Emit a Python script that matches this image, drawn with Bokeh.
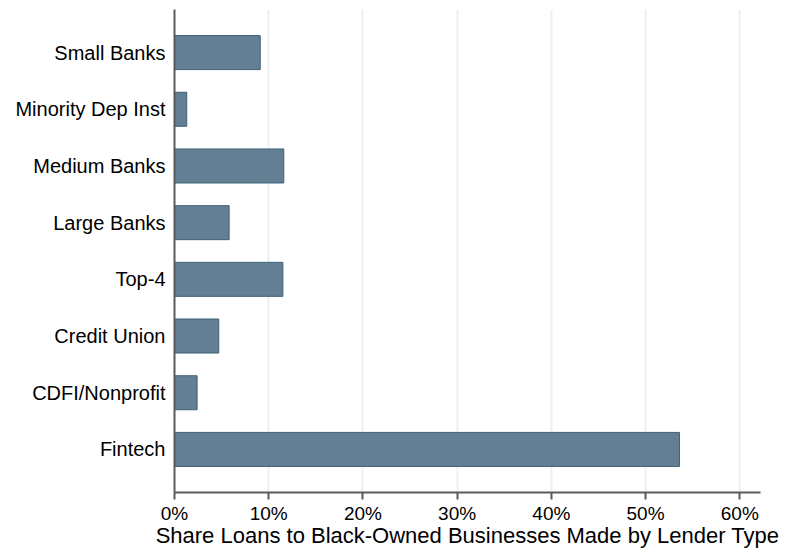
from bokeh.plotting import figure
from bokeh.models import Range1d, FactorRange, ColumnDataSource, NumeralTickFormatter, FixedTicker
from bokeh.embed import file_html
from bokeh.resources import INLINE

categories = ["Small Banks", "Minority Dep Inst", "Medium Banks", "Large Banks",
              "Top-4", "Credit Union", "CDFI/Nonprofit", "Fintech"]
shares = [9.1, 1.3, 11.6, 5.8, 11.5, 4.7, 2.4, 53.6]
x_ticks = [0, 10, 20, 30, 40, 50, 60]
x_title = "Share Loans to Black-Owned Businesses Made by Lender Type"

FONT = "Liberation Sans"

src = ColumnDataSource(dict(cat=categories, val=[v / 100 for v in shares]))

LB, RB, TB, BB = 174, 27, 9, 60
FW, FH = 586, 483

p = figure(
    y_range=FactorRange(factors=list(reversed(categories)), range_padding=0.065),
    x_range=Range1d(0, 0.622),
    frame_width=FW, frame_height=FH,
    min_border_left=LB, min_border_right=RB, min_border_top=TB, min_border_bottom=BB,
    output_backend="svg", toolbar_location=None,
)
p.width = LB + FW + RB
p.height = TB + FH + BB

p.hbar(y="cat", right="val", left=0, height=0.6, source=src,
       fill_color="#627f93", line_color="#3f6278", line_width=1)

p.outline_line_color = None
p.background_fill_color = "white"

# grid
p.ygrid.grid_line_color = None
p.xgrid.ticker = FixedTicker(ticks=[t / 100 for t in x_ticks if t > 0])
p.xgrid.grid_line_color = "#e9f1f3"
p.xgrid.grid_line_width = 2

# x axis
xa = p.xaxis[0]
xa.ticker = FixedTicker(ticks=[t / 100 for t in x_ticks])
xa.formatter = NumeralTickFormatter(format="0%")
xa.axis_line_color = "#5a5a5a"
xa.axis_line_width = 2
xa.major_tick_line_color = "#5a5a5a"
xa.major_tick_line_width = 2
xa.major_tick_out = 7
xa.major_tick_in = 0
xa.minor_tick_line_color = None
xa.major_label_text_font = FONT
xa.major_label_text_font_size = "19px"
xa.major_label_text_color = "black"
xa.major_label_standoff = 3
xa.axis_label = x_title
xa.axis_label_text_font = FONT
xa.axis_label_text_font_size = "22px"
xa.axis_label_text_font_style = "normal"
xa.axis_label_text_color = "black"
xa.axis_label_standoff = -4

# y axis
ya = p.yaxis[0]
ya.axis_line_color = "#5a5a5a"
ya.axis_line_width = 2
ya.major_tick_line_color = None
ya.major_tick_out = 0
ya.major_tick_in = 0
ya.minor_tick_line_color = None
ya.major_label_text_font = FONT
ya.major_label_text_font_size = "20px"
ya.major_label_text_color = "black"
ya.major_label_standoff = 9

open("out.html", "w").write(file_html(p, INLINE))
